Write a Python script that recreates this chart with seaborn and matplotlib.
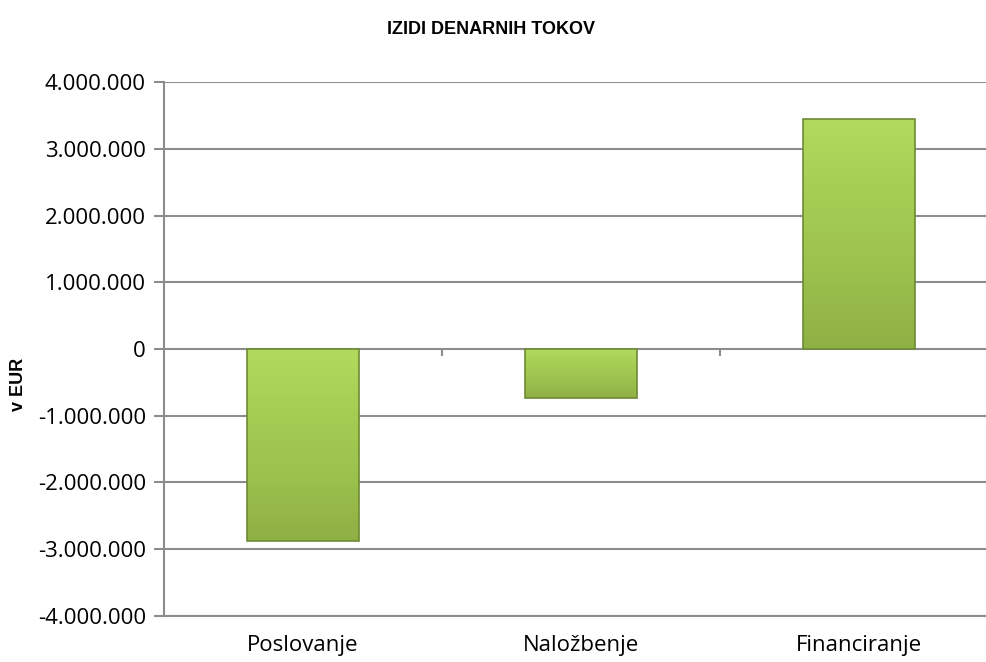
import matplotlib
matplotlib.use("Agg")
import matplotlib.pyplot as plt
import numpy as np
import pandas as pd
import seaborn as sns
from matplotlib.colors import LinearSegmentedColormap
from matplotlib.ticker import FuncFormatter

# data
categories = ["Poslovanje", "Naložbenje", "Financiranje"]
values = [-2870000, -735000, 3450000]
y_ticks = [-4000000, -3000000, -2000000, -1000000, 0, 1000000, 2000000, 3000000, 4000000]

df = pd.DataFrame({"kategorija": categories, "znesek": values})

sns.set_theme(style="white")
plt.rcParams["font.family"] = ["Open Sans", "DejaVu Sans"]
plt.rcParams["text.color"] = "black"
plt.rcParams["xtick.color"] = "black"
plt.rcParams["ytick.color"] = "black"

fig = plt.figure(figsize=(9.87, 6.62), dpi=100)
ax = fig.add_axes([0.1662, 0.0695, 0.845, 0.8066])

sns.barplot(data=df, x="kategorija", y="znesek", color="#9fc54d", width=0.4,
            edgecolor="#6f8a35", linewidth=1.2, saturation=1, ax=ax, zorder=3)

# soft vertical gradient inside each bar (light on top, a bit darker at the bottom)
green = LinearSegmentedColormap.from_list("g", ["#b2da5e", "#a5cd54", "#9cc14d", "#8fb045"])
grad = np.linspace(0, 1, 256).reshape(-1, 1)
for bar in ax.patches:
    x0, y0 = bar.get_x(), bar.get_y()
    w, h = bar.get_width(), bar.get_height()
    ylo, yhi = min(y0, y0 + h), max(y0, y0 + h)
    im = ax.imshow(grad, cmap=green, aspect="auto", extent=[x0, x0 + w, ylo, yhi],
                   origin="upper", zorder=3.5)
    im.set_clip_path(bar)
    bar.set_zorder(4)
    bar.set_facecolor("none")

grid_col = "#8c8c8c"
ax.set_ylim(-4000000, 4000000)
ax.set_xlim(-0.5, 2.5)
ax.set_yticks(y_ticks)
ax.yaxis.set_major_formatter(FuncFormatter(lambda v, p: f"{int(v):,}".replace(",", ".")))
for t in y_ticks:
    ax.axhline(t, color=grid_col, linewidth=1.5, zorder=1)

# category boundary ticks on the zero line (Excel style)
ax.vlines([0.5, 1.5], -110000, 0, color=grid_col, linewidth=1.5, zorder=1)

for side in ["top", "right"]:
    ax.spines[side].set_visible(False)
ax.spines["left"].set_color(grid_col)
ax.spines["left"].set_linewidth(1.5)
ax.spines["bottom"].set_color(grid_col)
ax.spines["bottom"].set_linewidth(1.5)

ax.tick_params(axis="y", which="major", direction="out", length=7, width=1.5,
               color=grid_col, labelcolor="black", labelsize=16, left=True, pad=6)
ax.tick_params(axis="x", length=0, labelsize=16, labelcolor="black", pad=14)

ax.set_xlabel("")
ax.set_ylabel("v EUR", fontsize=13, fontweight="bold", color="black",
              family=["Liberation Sans", "DejaVu Sans"])
ax.yaxis.set_label_coords(-0.164, 0.434)

fig.text(0.497, 0.955, "IZIDI DENARNIH TOKOV", ha="center", va="center",
         fontsize=13, fontweight="bold", color="black",
         family=["Liberation Sans", "DejaVu Sans"])

fig.savefig("out.png", dpi=100)
